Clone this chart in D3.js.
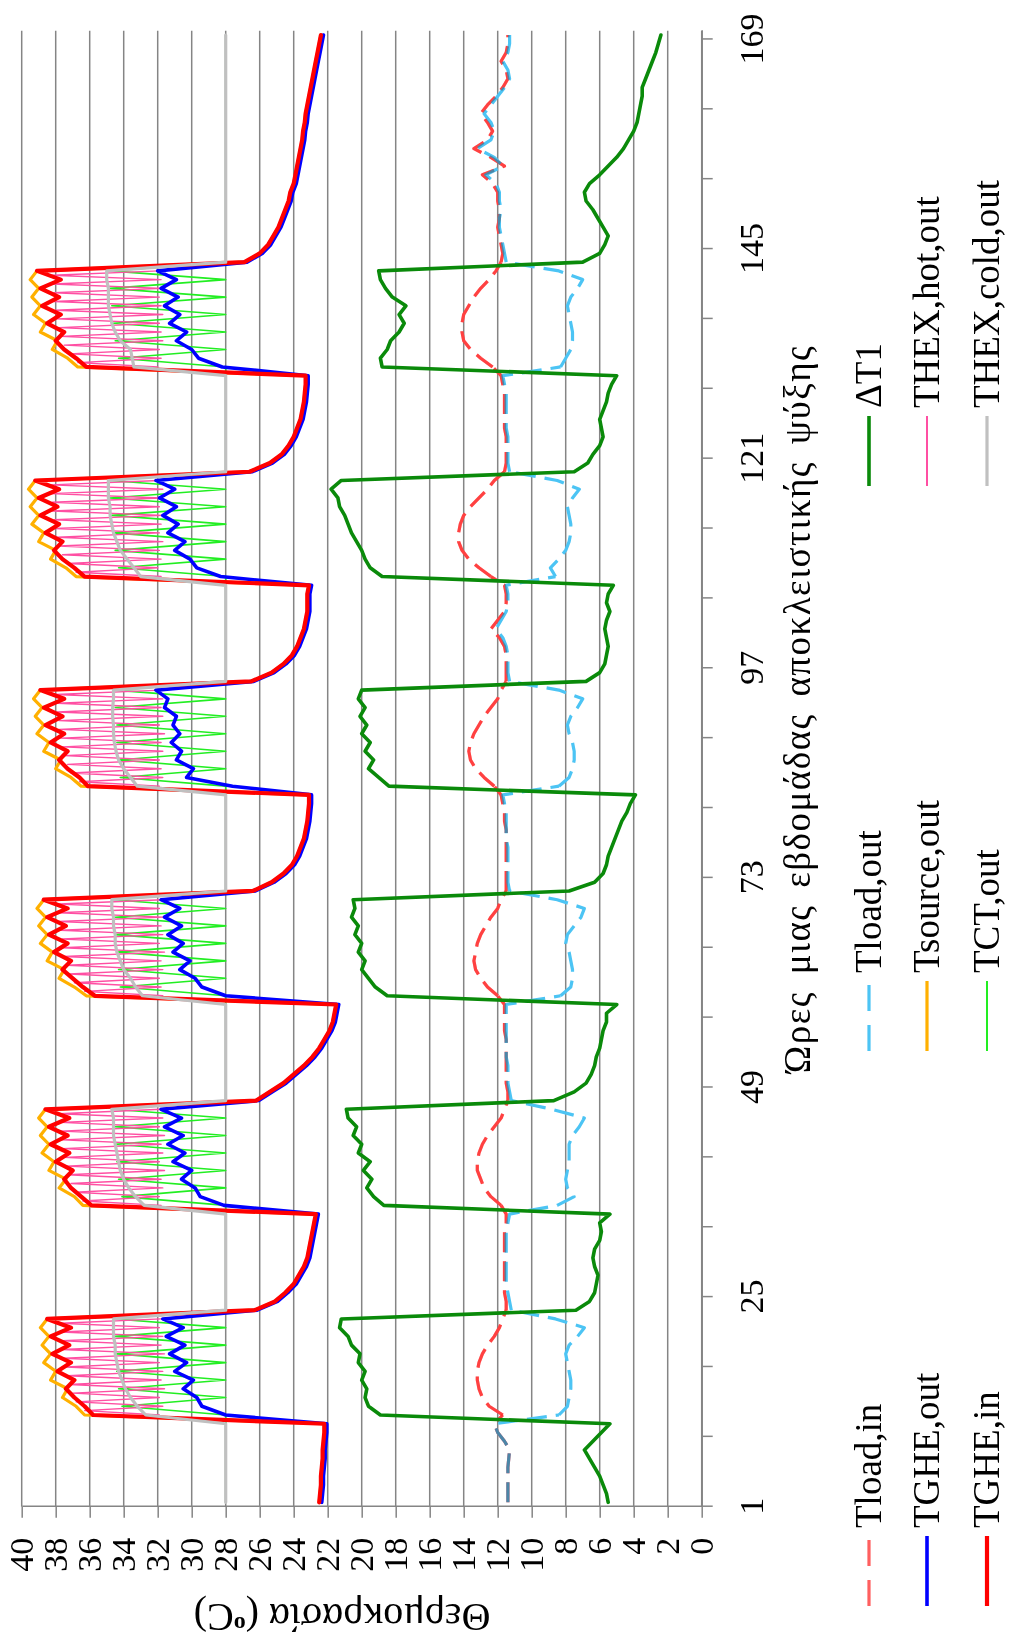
<!DOCTYPE html>
<html>
<head>
<meta charset="utf-8">
<script src="https://cdn.jsdelivr.net/npm/d3@7"></script>
<style>
  html, body { margin: 0; padding: 0; background: #fff; }
  svg { display: block; }
  svg text { font-family: "Liberation Serif", "DejaVu Serif", "Times New Roman", serif !important; fill: #000; }
</style>
</head>
<body>
<div id="chart"></div>
<script>
// Hourly simulation output, first point at hour 1.5, one value per hour
const firstHour = 1.5;
// index where each idle / cooling period begins (used to restart dash patterns)
const periodStarts = [0, 10, 22, 34, 46, 58, 70, 82, 94, 106, 118, 130, 142, 168];

const tLoadIn = [
  11.4, 11.4, 11.4, 11.4, 11.4, 11.35, 11.3, 11.6, 12.0, 12.2,
  11.7, 12.5, 12.9, 13.1, 13.2, 13.2, 13.1, 12.9, 12.6, 12.2, 11.9, 11.7,
  11.5, 11.5, 11.6, 11.6, 11.6, 11.6, 11.6, 11.6, 11.6, 11.6, 11.5, 11.5,
  11.8, 12.4, 12.8, 13.0, 13.2, 13.2, 13.1, 12.9, 12.6, 12.2, 11.8, 11.6,
  11.4, 11.4, 11.5, 11.5, 11.5, 11.5, 11.5, 11.5, 11.6, 11.6, 11.6, 11.6,
  12.0, 12.6, 13.0, 13.3, 13.4, 13.3, 13.2, 13.0, 12.7, 12.4, 12.0, 11.8,
  11.5, 11.5, 11.5, 11.5, 11.5, 11.5, 11.5, 11.5, 11.6, 11.6, 11.7, 11.8,
  12.2, 12.8, 13.3, 13.6, 13.7, 13.6, 13.4, 13.1, 12.8, 12.4, 12.0, 11.8,
  11.5, 11.5, 11.5, 11.5, 11.6, 11.9, 12.4, 12.0, 11.6, 11.5, 11.5, 11.6,
  12.4, 13.1, 13.7, 14.1, 14.3, 14.3, 14.2, 14.0, 13.6, 13.1, 12.6, 12.2,
  11.6, 11.5, 11.5, 11.5, 11.5, 11.6, 11.6, 11.6, 11.6, 11.6, 11.7, 11.8,
  12.3, 13.0, 13.6, 14.0, 14.1, 14.1, 14.0, 13.7, 13.4, 13.0, 12.5, 12.1,
  11.8, 11.7, 11.8, 11.9, 12.0, 11.9, 11.9, 12.0, 12.0, 12.3, 12.9, 11.6, 12.4, 13.4,
  12.6, 12.3, 12.6, 13.0, 12.6, 12.1, 11.7, 11.4, 11.5, 11.8, 11.5, 11.4, 11.4
];

const tLoadOut = [
  11.4, 11.4, 11.4, 11.4, 11.4, 11.35, 11.3, 11.6, 12.0, 12.2,
  8.4, 7.9, 7.8, 7.7, 7.7, 7.8, 7.9, 8.0, 7.8, 7.3, 6.9, 8.6,
  11.2, 11.3, 11.4, 11.5, 11.5, 11.5, 11.5, 11.5, 11.5, 11.5, 11.4, 11.3,
  8.5, 7.5, 7.9, 8.0, 7.9, 7.8, 7.8, 7.8, 7.6, 7.2, 6.9, 8.8,
  11.2, 11.3, 11.4, 11.4, 11.4, 11.5, 11.5, 11.5, 11.5, 11.5, 11.5, 11.5,
  8.3, 7.7, 7.6, 7.6, 7.7, 7.8, 8.0, 7.9, 7.5, 7.1, 6.9, 8.5,
  11.3, 11.4, 11.4, 11.4, 11.4, 11.4, 11.5, 11.5, 11.5, 11.5, 11.6, 11.7,
  8.4, 7.8, 7.6, 7.5, 7.5, 7.6, 7.8, 7.9, 7.7, 7.3, 7.0, 8.4,
  11.3, 11.4, 11.4, 11.4, 11.5, 11.7, 12.1, 11.8, 11.5, 11.4, 11.4, 11.5,
  8.6, 8.9, 8.4, 8.0, 7.8, 7.7, 7.7, 7.8, 7.9, 7.6, 7.2, 8.5,
  11.3, 11.4, 11.4, 11.4, 11.4, 11.5, 11.5, 11.5, 11.5, 11.5, 11.6, 11.7,
  8.3, 8.0, 7.7, 7.6, 7.6, 7.7, 7.8, 7.9, 7.7, 7.3, 7.0, 8.4,
  11.5, 11.6, 11.7, 11.8, 11.9, 11.9, 11.8, 11.9, 11.9, 12.1, 12.7, 11.7, 12.2, 13.2,
  12.4, 12.2, 12.4, 12.8, 12.4, 12.0, 11.6, 11.3, 11.4, 11.7, 11.4, 11.3, 11.3
];

const tgheIn = [
  22.5, 22.45, 22.4, 22.4, 22.35, 22.3, 22.3, 22.25, 22.2, 22.2,
  35.8, 36.3, 36.9, 37.4, 36.9, 37.9, 37.1, 38.2, 37.2, 38.3, 37.1, 38.5,
  26.3, 25.1, 24.5, 24.0, 23.7, 23.4, 23.2, 23.1, 23.0, 22.9, 22.8, 22.7,
  35.9, 36.5, 37.1, 37.5, 37.0, 38.0, 37.2, 38.3, 37.3, 38.4, 37.2, 38.6,
  26.2, 25.4, 24.6, 24.0, 23.4, 22.9, 22.5, 22.2, 21.9, 21.7, 21.6, 21.5,
  35.7, 36.4, 37.0, 37.6, 37.1, 38.1, 37.3, 38.4, 37.4, 38.5, 37.3, 38.7,
  26.4, 25.3, 24.6, 24.1, 23.8, 23.6, 23.4, 23.3, 23.2, 23.15, 23.1, 23.1,
  36.1, 36.6, 37.3, 37.8, 37.3, 38.3, 37.5, 38.6, 37.6, 38.7, 37.5, 38.9,
  26.5, 25.3, 24.6, 24.1, 23.8, 23.6, 23.4, 23.3, 23.2, 23.2, 23.2, 23.1,
  36.3, 36.9, 37.6, 38.1, 37.6, 38.6, 37.8, 38.9, 37.9, 39.0, 37.8, 39.2,
  26.6, 25.4, 24.7, 24.3, 24.0, 23.8, 23.6, 23.5, 23.4, 23.35, 23.3, 23.3,
  36.2, 36.8, 37.5, 38.0, 37.5, 38.5, 37.7, 38.8, 37.8, 38.9, 37.7, 39.1,
  26.9, 26.0, 25.5, 25.2, 24.9, 24.7, 24.5, 24.3, 24.2, 24.0, 23.9, 23.8, 23.7, 23.6,
  23.5, 23.45, 23.35, 23.3, 23.2, 23.1, 23.0, 22.9, 22.8, 22.7, 22.6, 22.5, 22.4
];

const tgheOut = [
  22.35, 22.3, 22.25, 22.25, 22.2, 22.15, 22.15, 22.1, 22.05, 22.05,
  28.0, 29.4, 29.7, 30.5, 29.9, 31.0, 30.3, 31.3, 30.4, 31.5, 30.5, 31.7,
  26.15, 24.95, 24.35, 23.85, 23.55, 23.25, 23.05, 22.95, 22.85, 22.75, 22.65, 22.55,
  28.1, 29.5, 29.8, 30.6, 30.0, 31.1, 30.4, 31.4, 30.5, 31.6, 30.6, 31.8,
  26.05, 25.25, 24.45, 23.85, 23.25, 22.75, 22.35, 22.05, 21.75, 21.55, 21.45, 21.35,
  28.0, 29.4, 29.8, 30.7, 30.1, 31.1, 30.5, 31.4, 30.6, 31.6, 30.7, 31.8,
  26.25, 25.15, 24.45, 23.95, 23.65, 23.45, 23.25, 23.15, 23.05, 23.0, 22.95, 22.95,
  27.6, 30.3, 29.9, 30.9, 30.6, 31.2, 30.7, 31.1, 30.9, 31.6, 31.4, 32.1,
  26.35, 25.15, 24.45, 23.95, 23.65, 23.45, 23.25, 23.15, 23.05, 23.05, 23.05, 22.95,
  28.3, 29.7, 30.1, 31.0, 30.4, 31.4, 30.8, 31.7, 30.9, 31.9, 31.0, 32.1,
  26.45, 25.25, 24.55, 24.15, 23.85, 23.65, 23.45, 23.35, 23.25, 23.2, 23.15, 23.15,
  28.2, 29.6, 30.0, 30.9, 30.3, 31.3, 30.7, 31.6, 30.8, 31.8, 30.9, 32.0,
  26.75, 25.85, 25.35, 25.05, 24.75, 24.55, 24.35, 24.15, 24.05, 23.85, 23.75, 23.65, 23.55, 23.45,
  23.35, 23.3, 23.2, 23.15, 23.05, 22.95, 22.85, 22.75, 22.65, 22.55, 22.45, 22.35, 22.25
];

const tsourceOut = [
  22.5, 22.45, 22.4, 22.4, 22.35, 22.3, 22.3, 22.25, 22.2, 22.2,
  36.3, 36.8, 37.6, 37.3, 38.3, 38.0, 38.7, 38.3, 38.8, 38.4, 38.9, 38.5,
  26.3, 25.1, 24.5, 24.0, 23.7, 23.4, 23.2, 23.1, 23.0, 22.9, 22.8, 22.7,
  36.4, 36.9, 37.8, 37.4, 38.4, 38.1, 38.8, 38.4, 38.9, 38.5, 39.0, 38.6,
  26.2, 25.4, 24.6, 24.0, 23.4, 22.9, 22.5, 22.2, 21.9, 21.7, 21.6, 21.5,
  36.2, 36.9, 37.8, 37.5, 38.5, 38.2, 38.9, 38.5, 39.0, 38.6, 39.1, 38.7,
  26.4, 25.3, 24.6, 24.1, 23.8, 23.6, 23.4, 23.3, 23.2, 23.15, 23.1, 23.1,
  36.5, 37.1, 38.0, 37.7, 38.7, 38.4, 39.1, 38.7, 39.2, 38.8, 39.3, 38.9,
  26.5, 25.3, 24.6, 24.1, 23.8, 23.6, 23.4, 23.3, 23.2, 23.2, 23.2, 23.1,
  36.8, 37.4, 38.3, 38.0, 39.0, 38.7, 39.4, 39.0, 39.5, 39.1, 39.6, 39.2,
  26.6, 25.4, 24.7, 24.3, 24.0, 23.8, 23.6, 23.5, 23.4, 23.35, 23.3, 23.3,
  36.7, 37.3, 38.2, 37.9, 38.9, 38.6, 39.3, 38.9, 39.4, 39.0, 39.5, 39.1,
  26.9, 26.0, 25.5, 25.2, 24.9, 24.7, 24.5, 24.3, 24.2, 24.0, 23.9, 23.8, 23.7, 23.6,
  23.5, 23.45, 23.35, 23.3, 23.2, 23.1, 23.0, 22.9, 22.8, 22.7, 22.6, 22.5, 22.4
];

const tctOut = [
  28, 28, 28, 28, 28, 28, 28, 28, 28, 28,
  28, 34.1, 28, 34.3, 28, 34.4, 28, 34.4, 28, 34.5, 28, 34.5,
  28, 28, 28, 28, 28, 28, 28, 28, 28, 28, 28, 28,
  28, 34.1, 28, 34.3, 28, 34.4, 28, 34.5, 28, 34.5, 28, 34.6,
  28, 28, 28, 28, 28, 28, 28, 28, 28, 28, 28, 28,
  28, 34.2, 28, 34.3, 28, 34.4, 28, 34.5, 28, 34.5, 28, 34.6,
  28, 28, 28, 28, 28, 28, 28, 28, 28, 28, 28, 28,
  28, 34.2, 28, 34.3, 28, 34.4, 28, 34.4, 28, 34.5, 28, 34.5,
  28, 28, 28, 28, 28, 28, 28, 28, 28, 28, 28, 28,
  28, 34.3, 28, 34.5, 28, 34.6, 28, 34.7, 28, 34.8, 28, 34.8,
  28, 28, 28, 28, 28, 28, 28, 28, 28, 28, 28, 28,
  28, 34.3, 28, 34.5, 28, 34.6, 28, 34.7, 28, 34.8, 28, 34.8,
  28, 28, 28, 28, 28, 28, 28, 28, 28, 28, 28, 28, 28, 28,
  28, 28, 28, 28, 28, 28, 28, 28, 28, 28, 28, 28, 28
];

const thexColdOut = [
  28, 28, 28, 28, 28, 28, 28, 28, 28, 28,
  32.7, 33.2, 33.6, 33.9, 34.1, 34.3, 34.4, 34.5, 34.5, 34.6, 34.6, 34.6,
  28, 28, 28, 28, 28, 28, 28, 28, 28, 28, 28, 28,
  32.8, 33.3, 33.7, 34.0, 34.2, 34.3, 34.4, 34.5, 34.6, 34.6, 34.6, 34.7,
  28, 28, 28, 28, 28, 28, 28, 28, 28, 28, 28, 28,
  32.9, 33.3, 33.6, 34.0, 34.2, 34.4, 34.5, 34.5, 34.6, 34.6, 34.7, 34.7,
  28, 28, 28, 28, 28, 28, 28, 28, 28, 28, 28, 28,
  33.2, 33.6, 34.0, 34.3, 34.45, 34.55, 34.6, 34.6, 34.65, 34.65, 34.6, 34.6,
  28, 28, 28, 28, 28, 28, 28, 28, 28, 28, 28, 28,
  33.0, 33.4, 33.8, 34.2, 34.4, 34.6, 34.7, 34.8, 34.8, 34.9, 34.9, 34.9,
  28, 28, 28, 28, 28, 28, 28, 28, 28, 28, 28, 28,
  33.4, 33.5, 33.6, 34.2, 34.5, 34.7, 34.8, 34.9, 34.9, 34.9, 35.0, 35.0,
  28, 28, 28, 28, 28, 28, 28, 28, 28, 28, 28, 28, 28, 28,
  28, 28, 28, 28, 28, 28, 28, 28, 28, 28, 28, 28, 28
];

const deltaT1 = [
  5.5, 5.6, 5.8, 6.0, 6.3, 6.6, 6.9, 6.4, 5.9, 5.4,
  18.9, 19.6, 19.8, 19.7, 20.0, 19.8, 20.2, 20.1, 20.6, 20.8, 21.3, 21.2,
  7.4, 6.6, 6.3, 6.2, 6.1, 6.3, 6.4, 6.3, 6.0, 5.9, 6.0, 5.4,
  18.7, 19.3, 19.7, 19.4, 19.9, 19.5, 20.2, 20.0, 20.5, 20.3, 20.8, 20.9,
  8.7, 7.5, 6.8, 6.5, 6.3, 6.2, 6.0, 5.9, 5.8, 5.6, 5.6, 5.0,
  18.5, 19.2, 19.6, 20.0, 19.8, 20.2, 20.0, 20.4, 20.2, 20.6, 20.4, 20.5,
  7.8, 6.3, 5.8, 5.6, 5.5, 5.3, 5.1, 4.9, 4.7, 4.4, 4.2, 3.9,
  18.4, 19.0, 19.6, 19.3, 19.8, 19.5, 20.0, 19.7, 20.1, 19.8, 20.2, 20.0,
  6.8, 6.0, 5.7, 5.6, 5.5, 5.6, 5.7, 5.6, 5.4, 5.6, 5.5, 5.2,
  18.8, 19.5, 19.8, 20.0, 20.3, 20.6, 20.8, 21.0, 21.3, 21.4, 21.8, 21.2,
  7.5, 6.7, 6.4, 6.0, 5.8, 5.9, 6.0, 5.8, 5.6, 5.5, 5.3, 5.0,
  18.8, 18.9, 18.5, 18.3, 17.8, 17.5, 17.8, 17.4, 18.2, 18.6, 18.9, 19.0,
  7.0, 6.0, 5.7, 5.5, 5.8, 6.1, 6.4, 6.8, 6.9, 6.6, 6.0, 5.5, 5.0, 4.6,
  4.3, 4.0, 3.8, 3.7, 3.6, 3.5, 3.5, 3.3, 3.1, 2.9, 2.7, 2.55, 2.4
];

// THEX,hot,out is logged every half hour during the six operating periods
const thexHotStart = [11.5, 35.5, 59.5, 83.5, 107.5, 131.5];
const thexHotOut = [
  [31.9, 36.3, 31.7, 36.8, 31.9, 37.0, 31.6, 37.2, 31.8, 37.3, 31.7, 37.4, 31.9, 37.5, 31.6, 37.6, 31.8, 37.6, 31.7, 37.7, 31.9, 37.7, 31.8],
  [31.8, 36.4, 31.9, 36.9, 31.7, 37.1, 31.8, 37.3, 31.6, 37.4, 31.9, 37.5, 31.7, 37.6, 31.8, 37.6, 31.6, 37.7, 31.9, 37.7, 31.7, 37.8, 31.8],
  [31.7, 36.3, 31.8, 36.9, 31.9, 37.2, 31.7, 37.3, 31.8, 37.5, 31.6, 37.6, 31.9, 37.6, 31.7, 37.7, 31.8, 37.8, 31.7, 37.8, 31.9, 37.8, 31.7],
  [31.9, 36.6, 31.7, 37.1, 31.8, 37.3, 31.9, 37.5, 31.7, 37.6, 31.8, 37.7, 31.6, 37.8, 31.9, 37.8, 31.7, 37.9, 31.8, 37.9, 31.7, 38.0, 31.8],
  [31.8, 36.8, 32.0, 37.3, 31.8, 37.6, 31.9, 37.8, 31.7, 37.9, 31.9, 38.0, 31.8, 38.1, 31.7, 38.2, 31.9, 38.2, 31.8, 38.3, 31.7, 38.3, 31.9],
  [32.0, 36.7, 31.8, 37.2, 31.9, 37.5, 31.7, 37.7, 31.8, 37.8, 31.9, 37.9, 31.7, 38.0, 31.8, 38.1, 31.9, 38.1, 31.7, 38.2, 31.8, 38.2, 31.9]
];

const tempTicks = [0, 2, 4, 6, 8, 10, 12, 14, 16, 18, 20, 22, 24, 26, 28, 30, 32, 34, 36, 38, 40];
const hourLabels = [1, 25, 49, 73, 97, 121, 145, 169];

// Chart is laid out landscape (1646 x 1009) and turned a quarter turn
const W = 1646, H = 1009;
const serif = "'Liberation Serif', 'DejaVu Serif', 'Times New Roman', serif";
const x = d3.scaleLinear().domain([1, 170]).range([139.3, 1615.3]);
const y = d3.scaleLinear().domain([0, 40]).range([701.7, 21.7]);
const gridColor = "#858585";

const svg = d3.select("#chart").append("svg")
    .attr("width", H)
    .attr("height", W)
    .style("font-family", serif);

const g = svg.append("g")
    .attr("transform", `translate(0, ${W}) rotate(-90)`);

// Horizontal gridlines
g.append("g").selectAll("line")
    .data(tempTicks)
    .join("line")
    .attr("x1", x(1))
    .attr("x2", x(170))
    .attr("y1", d => y(d))
    .attr("y2", d => y(d))
    .attr("stroke", gridColor)
    .attr("stroke-width", 1.5);

// Y axis
const yAxis = g.append("g")
    .attr("transform", `translate(${x(1)}, 0)`)
    .call(d3.axisLeft(y).tickValues(tempTicks).tickSize(11).tickSizeOuter(0).tickPadding(20));
yAxis.attr("font-family", null).attr("font-size", null);
yAxis.select(".domain").attr("stroke", gridColor).attr("stroke-width", 1.5);
yAxis.selectAll(".tick line").attr("stroke", gridColor).attr("stroke-width", 1.5);
yAxis.selectAll(".tick text")
    .style("font-family", serif)
    .attr("font-size", 34)
    .attr("fill", "#000");

// X axis
const xAxis = g.append("g")
    .attr("transform", `translate(0, ${y(0)})`)
    .call(d3.axisBottom(x)
        .tickValues(d3.range(1, 170, 8))
        .tickSize(11)
        .tickSizeOuter(0)
        .tickPadding(26)
        .tickFormat(d => hourLabels.includes(d) ? d : ""));
xAxis.attr("font-family", null).attr("font-size", null);
xAxis.select(".domain").attr("stroke", gridColor).attr("stroke-width", 1.5);
xAxis.selectAll(".tick line").attr("stroke", gridColor).attr("stroke-width", 1.5);
xAxis.selectAll(".tick text")
    .style("font-family", serif)
    .attr("font-size", 34)
    .attr("fill", "#000");

// Axis titles
const yTitle = g.append("text")
    .attr("transform", `translate(42, 342) rotate(-90)`)
    .attr("text-anchor", "middle")
    .attr("font-size", 40)
    .style("font-family", serif);
yTitle.append("tspan").text("Θερμοκρασία  (");
yTitle.append("tspan").attr("baseline-shift", "super").attr("font-size", 24).attr("font-weight", "bold").text("o");
yTitle.append("tspan").text("C)");

g.append("text")
    .attr("x", 937)
    .attr("y", 810)
    .attr("text-anchor", "middle")
    .attr("font-size", 37)
    .attr("letter-spacing", 1.5)
    .attr("word-spacing", 6)
    .style("font-family", serif)
    .text("Ώρες μιας εβδομάδας αποκλειστικής ψύξης");

// Series
const hourly = vals => vals.map((v, i) => ({ t: firstHour + i, v }));
const line = d3.line().x(d => x(d.t)).y(d => y(d.v));

const series = {
    tLoadIn:   { name: "Tload,in",      values: hourly(tLoadIn),   color: "#ff5f5f", width: 3.2, dash: "20,9" },
    tLoadOut:  { name: "Tload,out",     values: hourly(tLoadOut),  color: "#4cc4f4", width: 3.2, dash: "20,9" },
    deltaT1:   { name: "ΔT1",           values: hourly(deltaT1),   color: "#0a8a0a", width: 3.6 },
    tgheOut:   { name: "TGHE,out",      values: hourly(tgheOut),   color: "#0000ff", width: 3.6 },
    tsource:   { name: "Tsource,out",   values: hourly(tsourceOut), color: "#ffb000", width: 3.2 },
    thexHot:   { name: "THEX,hot,out",  color: "#ff4fa3", width: 1.4 },
    tgheIn:    { name: "TGHE,in",       values: hourly(tgheIn),    color: "#ff0000", width: 4.2 },
    tctOut:    { name: "TCT,out",       values: hourly(tctOut),    color: "#22ee22", width: 1.6 },
    thexCold:  { name: "THEX,cold,out", values: hourly(thexColdOut), color: "#c0c0c0", width: 3.2 }
};

const plot = g.append("g")
    .attr("fill", "none")
    .attr("stroke-linejoin", "round")
    .attr("stroke-linecap", "round");

function drawSeries(s, data) {
    return plot.append("path")
        .datum(data)
        .attr("d", line)
        .attr("stroke", s.color)
        .attr("stroke-width", s.width)
        .attr("stroke-linecap", s.dash ? "butt" : "round")
        .attr("stroke-dasharray", s.dash || null);
}

// dashed load lines are drawn period by period so both dash patterns stay in step
function drawDashed(s) {
    const paths = [];
    for (let k = 0; k < periodStarts.length - 1; k++) {
        paths.push(drawSeries(s, s.values.slice(periodStarts[k], periodStarts[k + 1] + 1)));
    }
    return paths;
}

drawDashed(series.tLoadIn);
drawDashed(series.tLoadOut);
// where the two load lines coincide the dashes blend into a steel blue
drawDashed(series.tLoadIn).forEach(p => p.style("mix-blend-mode", "multiply").attr("opacity", 0.5));
drawSeries(series.tctOut, series.tctOut.values);
thexHotOut.forEach((vals, k) => {
    drawSeries(series.thexHot, vals.map((v, j) => ({ t: thexHotStart[k] + j * 0.5, v })));
});
drawSeries(series.tsource, series.tsource.values);
drawSeries(series.tgheOut, series.tgheOut.values);
drawSeries(series.tgheIn, series.tgheIn.values);
drawSeries(series.thexCold, series.thexCold.values);
drawSeries(series.deltaT1, series.deltaT1.values);

// Legend, three rows of three
const legendRows = [
    ["tLoadIn", "tLoadOut", "deltaT1"],
    ["tgheOut", "tsource", "thexHot"],
    ["tgheIn", "tctOut", "thexCold"]
];
const legendColX = [40, 595, 1160];
const legendRowY = [869, 927, 987];

const legend = g.append("g");
legendRows.forEach((row, r) => {
    row.forEach((key, c) => {
        const s = series[key];
        const item = legend.append("g")
            .attr("transform", `translate(${legendColX[c]}, ${legendRowY[r]})`);
        item.append("line")
            .attr("x1", 0).attr("x2", 70)
            .attr("y1", 0).attr("y2", 0)
            .attr("stroke", s.color)
            .attr("stroke-width", Math.max(s.width, 2))
            .attr("stroke-dasharray", s.dash ? "26,14" : null);
        item.append("text")
            .attr("x", 78)
            .attr("y", 12)
            .attr("font-size", 37)
            .style("font-family", serif)
            .text(s.name);
    });
});
</script>
</body>
</html>
